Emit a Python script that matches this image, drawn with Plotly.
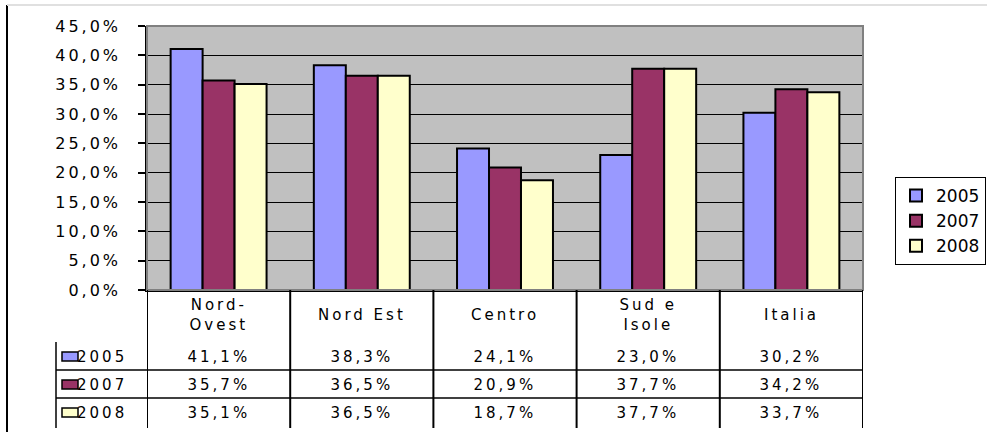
import plotly.graph_objects as go

categories = ["Nord-Ovest", "Nord Est", "Centro", "Sud e Isole", "Italia"]
header_labels = ["Nord-<br>Ovest", "Nord Est", "Centro", "Sud e<br>Isole", "Italia"]
series_names = ["2005", "2007", "2008"]
v2005 = [41.1, 38.3, 24.1, 23.0, 30.2]
v2007 = [35.7, 36.5, 20.9, 37.7, 34.2]
v2008 = [35.1, 36.5, 18.7, 37.7, 33.7]
series_values = [v2005, v2007, v2008]
colors = ["#9999FF", "#993366", "#FFFFCC"]
y_ticks = [0, 5, 10, 15, 20, 25, 30, 35, 40, 45]
y_ticktext = [f"{t:.1f}%".replace(".", ",") for t in y_ticks]

W, H = 996, 432
FONT = "DejaVu Sans"


def px(x):
    return x / W


def py(y):
    return 1 - y / H


fig = go.Figure()
for name, vals, col in zip(series_names, series_values, colors):
    fig.add_trace(go.Bar(
        x=categories, y=vals, name=name,
        marker=dict(color=col, line=dict(color="black", width=2)),
    ))

plot_l, plot_r, plot_t, plot_b = 147, 863, 26, 290

shapes = []
annotations = []

# plot area border (gray)
shapes.append(dict(type="rect", xref="paper", yref="paper",
                   x0=px(plot_l), x1=px(plot_r), y0=py(plot_b), y1=py(plot_t),
                   line=dict(color="#808080", width=2), layer="above"))
# outer chart frame
shapes.append(dict(type="line", xref="paper", yref="paper",
                   x0=px(7), x1=px(7), y0=py(5), y1=0,
                   line=dict(color="black", width=2)))
shapes.append(dict(type="line", xref="paper", yref="paper",
                   x0=px(7), x1=px(987), y0=py(5), y1=py(5),
                   line=dict(color="#e0e0e0", width=2)))

# data table
tbl_bottom = 428
row_y = [357, 385, 413]
row_lines = [370, 398]
for i in range(len(categories) + 1):
    shapes.append(dict(type="line", xref="x", yref="paper",
                       x0=i - 0.5, x1=i - 0.5, y0=py(plot_b), y1=py(tbl_bottom),
                       line=dict(color="black", width=2)))
shapes.append(dict(type="line", xref="paper", yref="paper",
                   x0=px(56), x1=px(56), y0=py(342), y1=py(tbl_bottom),
                   line=dict(color="black", width=1.5)))
for ry in row_lines:
    shapes.append(dict(type="line", xref="paper", yref="paper",
                       x0=px(56), x1=px(plot_r), y0=py(ry), y1=py(ry),
                       line=dict(color="black", width=1.5)))

for i, lab in enumerate(header_labels):
    annotations.append(dict(xref="x", yref="paper", x=i, y=py(315),
                            text=lab, showarrow=False, xanchor="center", yanchor="middle",
                            font=dict(family=FONT, size=15, color="black")))

for r, (name, vals, col) in enumerate(zip(series_names, series_values, colors)):
    yc = row_y[r]
    shapes.append(dict(type="rect", xref="paper", yref="paper",
                       x0=px(62), x1=px(78), y0=py(yc + 4), y1=py(yc - 5),
                       fillcolor=col, line=dict(color="black", width=1.5)))
    annotations.append(dict(xref="paper", yref="paper", x=px(81), y=py(yc),
                            text=name, showarrow=False, xanchor="left", yanchor="middle",
                            font=dict(family=FONT, size=15, color="black")))
    for i, v in enumerate(vals):
        annotations.append(dict(xref="x", yref="paper", x=i, y=py(yc),
                                text=f"{v:.1f}%".replace(".", ","), showarrow=False,
                                xanchor="center", yanchor="middle",
                                font=dict(family=FONT, size=15, color="black")))

fig.update_layout(
    width=W, height=H,
    margin=dict(l=0, r=0, t=0, b=0, pad=0, autoexpand=False),
    paper_bgcolor="white",
    plot_bgcolor="#C0C0C0",
    barmode="group",
    bargap=0.33,
    bargroupgap=0,
    showlegend=True,
    legend=dict(x=px(895), y=py(177), xanchor="left", yanchor="top",
                bordercolor="black", borderwidth=1, bgcolor="white",
                font=dict(family=FONT, size=17, color="black"),
                itemwidth=30, tracegroupgap=0),
    xaxis=dict(domain=[px(plot_l), px(plot_r)], showticklabels=False, ticks="",
               showgrid=False, showline=True, linecolor="black", linewidth=1.5,
               automargin=False,
               range=[-0.5, len(categories) - 0.5]),
    yaxis=dict(domain=[py(plot_b), py(plot_t)], range=[0, 45], tickmode="array",
               tickvals=y_ticks, ticktext=y_ticktext,
               ticks="outside", ticklen=7, automargin=False,
               tickcolor="black", tickwidth=1.5, showline=True, linecolor="black",
               linewidth=1.5, showgrid=True, gridcolor="black", gridwidth=1,
               zeroline=False, ticklabelstandoff=14,
               tickfont=dict(family=FONT, size=16, color="black")),
    shapes=shapes,
    annotations=annotations,
)

fig.write_html(
    "out.html",
    config={"displayModeBar": False},
    post_script=(
        "document.body.style.margin='0';"
        "document.querySelectorAll('.annotation-text').forEach(function(e){e.style.letterSpacing='3px';});"
        "document.querySelectorAll('.ytick text').forEach(function(e){e.style.letterSpacing='3px';});"
    ),
)
